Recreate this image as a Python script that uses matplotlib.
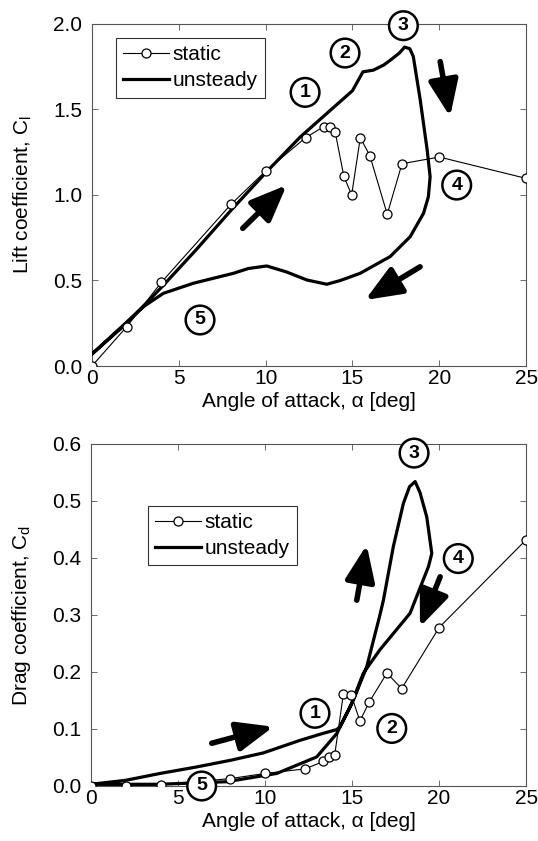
import matplotlib
matplotlib.use("Agg")
import matplotlib.pyplot as plt

plt.rcParams['font.family'] = ['Liberation Sans', 'DejaVu Sans']
plt.rcParams['mathtext.fontset'] = 'custom'
plt.rcParams['mathtext.rm'] = 'Liberation Sans'

# Static data
static_alpha = [0, 2, 4, 8, 10, 12.3, 13.35, 13.7, 14.0, 14.5, 14.95, 15.45, 16.0, 17.0, 17.85, 20.0, 25.0]
static_cl = [0.0, 0.23, 0.49, 0.945, 1.14, 1.335, 1.40, 1.40, 1.37, 1.11, 1.0, 1.335, 1.23, 0.887, 1.183, 1.222, 1.097]
static_cd = [0.0, 0.0, 0.002, 0.013, 0.022, 0.030, 0.043, 0.050, 0.054, 0.161, 0.160, 0.114, 0.148, 0.198, 0.171, 0.278, 0.432]

# Unsteady lift loop
uns_alpha_l = [0, 2, 4, 6, 8, 10, 12, 14, 15, 15.6, 16.2, 16.8, 17.2, 17.7, 18.0, 18.3, 18.5, 18.9, 19.3,
               19.47, 19.37, 19.09, 18.32, 17.17, 15.44, 14.3, 13.52, 12.37, 11.2, 10.06, 9.0, 8.14,
               5.84, 4.11, 2.96, 1.5, 0]
uns_cl = [0.07, 0.25, 0.46, 0.68, 0.91, 1.13, 1.34, 1.52, 1.61, 1.72, 1.73, 1.76, 1.79, 1.83, 1.865, 1.855, 1.81, 1.556, 1.263,
          1.107, 0.99, 0.893, 0.756, 0.64, 0.542, 0.50, 0.478, 0.503, 0.55, 0.585, 0.57, 0.542,
          0.484, 0.425, 0.347, 0.21, 0.07]

# Unsteady drag loop
uns_alpha_d = [0, 2, 3.97, 6, 8, 9.9, 12.0, 13.3, 14.12, 14.3, 15.08, 15.84, 16.6, 16.8, 17.37, 17.95, 18.3, 18.62,
               18.9, 19.29, 19.58, 19.39, 18.33, 16.6, 15.65, 14.9, 14.12, 12.97, 10.67, 7.8, 3.9, 0]
uns_cd = [0.003, 0.010, 0.022, 0.033, 0.045, 0.058, 0.080, 0.092, 0.099, 0.104, 0.151, 0.209, 0.300, 0.326, 0.42, 0.496, 0.525, 0.534,
          0.515, 0.472, 0.408, 0.385, 0.303, 0.239, 0.198, 0.139, 0.092, 0.051, 0.022, 0.0075, 0.003, 0.003]

fig = plt.figure(figsize=(5.38, 8.41), dpi=100)
ax1 = fig.add_axes([0.171, 0.5648, 0.807, 0.4067])
ax2 = fig.add_axes([0.169, 0.0654, 0.809, 0.4067])

FS = 15

def style(ax):
    ax.tick_params(direction='in', top=True, right=True, labelsize=FS, length=4, width=0.6, color='#555555')
    ax.tick_params(axis='y', pad=7)
    ax.tick_params(axis='x', pad=2)
    for s in ax.spines.values():
        s.set_linewidth(0.8)
        s.set_color('#555555')
    ax.set_xlim(0, 25)
    ax.set_xticks([0, 5, 10, 15, 20, 25])
    ax.set_xlabel('Angle of attack, α [deg]', fontsize=FS, labelpad=3)

def circ(ax, x, y, t):
    ax.text(x, y, t, ha='center', va='center', fontsize=14, fontweight='bold', clip_on=False,
            bbox=dict(boxstyle='circle,pad=0.3', fc='white', ec='black', lw=1.8), zorder=6)

def arrow(ax, x0, y0, x1, y1):
    ax.annotate('', xy=(x1, y1), xytext=(x0, y0),
                arrowprops=dict(arrowstyle='-|>,head_length=1.1,head_width=0.45', lw=4, color='black',
                                mutation_scale=20, shrinkA=0, shrinkB=0), zorder=5)

def legend(ax, anchor):
    h, l = ax.get_legend_handles_labels()
    leg = ax.legend(h[::-1], l[::-1], loc='upper left', bbox_to_anchor=anchor, fontsize=FS, frameon=True,
                    fancybox=False, edgecolor='black', handlelength=2.2, handletextpad=0.15, borderpad=0.35,
                    labelspacing=0.35, borderaxespad=0)
    leg.get_frame().set_linewidth(0.8)

# Top plot
ax1.plot(uns_alpha_l, uns_cl, color='black', lw=2.3, label='unsteady', zorder=3)
ax1.plot(static_alpha, static_cl, color='black', lw=0.8, marker='o', ms=6.5, mfc='white', mec='black', mew=0.9,
         label='static', zorder=4)
style(ax1)
ax1.set_ylim(0, 2.0)
ax1.set_yticks([0, 0.5, 1.0, 1.5, 2.0])
ax1.set_yticklabels(['0.0', '0.5', '1.0', '1.5', '2.0'])
ax1.set_ylabel(r'Lift coefficient, C$_\mathregular{l}$', fontsize=FS, labelpad=14)
legend(ax1, (0.055, 0.96))
circ(ax1, 12.27, 1.60, '1')
circ(ax1, 14.57, 1.83, '2')
circ(ax1, 17.93, 1.99, '3')
circ(ax1, 21.0, 1.058, '4')
circ(ax1, 6.22, 0.269, '5')
arrow(ax1, 8.68, 0.805, 11.21, 1.058)
arrow(ax1, 20.05, 1.78, 20.62, 1.458)
arrow(ax1, 18.89, 0.58, 15.73, 0.386)

# Bottom plot
ax2.plot(uns_alpha_d, uns_cd, color='black', lw=2.3, label='unsteady', zorder=3)
ax2.plot(static_alpha, static_cd, color='black', lw=0.8, marker='o', ms=6.5, mfc='white', mec='black', mew=0.9,
         label='static', zorder=4)
style(ax2)
ax2.set_ylim(0, 0.6)
ax2.set_yticks([0, 0.1, 0.2, 0.3, 0.4, 0.5, 0.6])
ax2.set_yticklabels(['0.0', '0.1', '0.2', '0.3', '0.4', '0.5', '0.6'])
ax2.set_ylabel(r'Drag coefficient, C$_\mathregular{d}$', fontsize=FS, labelpad=14)
legend(ax2, (0.131, 0.82))
circ(ax2, 12.87, 0.1275, '1')
circ(ax2, 17.28, 0.101, '2')
circ(ax2, 18.56, 0.584, '3')
circ(ax2, 21.1, 0.399, '4')
circ(ax2, 6.36, 0.0, '5')
arrow(ax2, 6.94, 0.075, 10.48, 0.104)
arrow(ax2, 15.27, 0.326, 15.84, 0.423)
arrow(ax2, 20.06, 0.367, 18.9, 0.279)

fig.savefig('out.png', dpi=100)
